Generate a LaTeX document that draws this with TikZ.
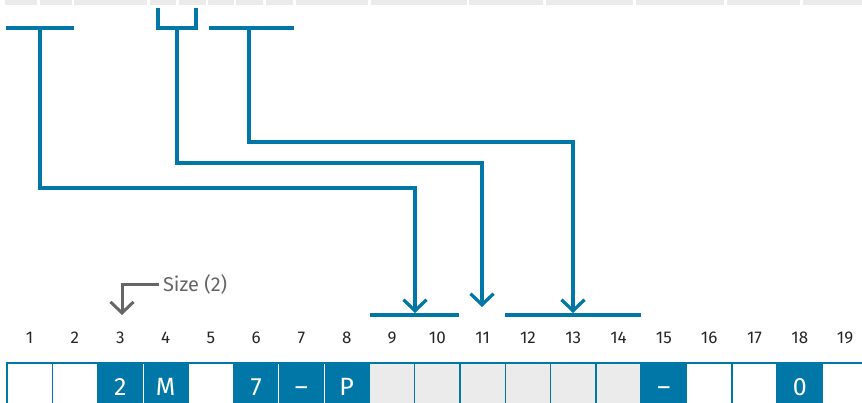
\documentclass[tikz,border=0pt]{standalone}
\usepackage{fontspec}
\setmainfont{Fira Sans}
\usepackage{xcolor}
\usetikzlibrary{arrows.meta,positioning,calc}
\definecolor{field_blue}{RGB}{0,119,167}
\definecolor{field_gray}{RGB}{235,235,235}
\definecolor{note_gray}{RGB}{102,102,102}

\begin{document}
\begin{tikzpicture}[
                x=1pt, y=-1pt,
                every node/.style={inner sep=0pt, outer sep=0pt},
                cell/.style={draw=field_blue, line width=1.5pt, minimum width=45.3pt, minimum height=46pt, anchor=north west, text height=18pt, text depth=0pt, font=\fontsize{25}{25}\selectfont},
                cell_empty/.style={cell, fill=white},
                cell_gray/.style={cell, fill=field_gray},
                cell_set/.style={cell, fill=field_blue, draw=white, line width=0.8pt, text=white},
                pos_num/.style={text=black!85, font=\fontsize{17}{17}\selectfont, text height=12pt, text depth=0pt},
                bracket/.style={field_blue, line width=3.3pt},
                link/.style={field_blue, line width=3.3pt, -{Straight Barb[length=11pt, width=23pt, line width=3.3pt]}},
                note/.style={text=note_gray, font=\fontsize{20}{20}\selectfont, inner xsep=4pt},
                note_link/.style={note_gray, line width=3pt, -{Straight Barb[length=11pt, width=23pt, line width=3pt]}}
            ]
                \path[use as bounding box, clip] (0,0) rectangle (862,403);

                % Header strip (light gray tabs)
                \foreach \a/\b in {5/37,40/72,74/147,150/176,179/206,208/234,236/263,266/293,296/368,371/467,469/543,546/633,636/724,727/800,803/862} {
                    \fill[field_gray] (\a,0) rectangle (\b,5);
                }

                % Source brackets
                \draw[bracket] (6,28) -- (74,28);
                \draw[bracket] (158,8) -- (158,28) -- (196,28) -- (196,8);
                \draw[bracket] (209,28) -- (294,28);
                \coordinate (src_a) at (40,28);
                \coordinate (src_b) at (177,28);
                \coordinate (src_c) at (249,28);

                % Target brackets
                \draw[bracket] (370,315) -- (459,315);
                \draw[bracket] (505,315) -- (641,315);
                \coordinate (dst_a) at (415,313);
                \coordinate (dst_b) at (482,307);
                \coordinate (dst_c) at (573,313);

                % Mapping links
                \draw[link] (src_a) -- ++(0,160) -| (dst_a);
                \draw[link] (src_b) -- ++(0,135) -| (dst_b);
                \draw[link] (src_c) -- ++(0,114) -| (dst_c);

                % Position numbers
                \foreach \i in {1,...,19} {
                    \node[pos_num] (n\i) at ({7+(\i-0.5)*45.3},337) {\i};
                }

                % Size note at position 3
                \node[note, anchor=west] (size_lbl) at (159,285) {Size (2)};
                \coordinate (size_tip) at (122,315);
                \draw[note_link] (size_lbl.west) -| (size_tip);

                % Field cells (filled ones first, the others over their borders)
                \foreach \i/\txt in {3/2,4/M,6/7,7/\textendash,8/P,15/\textendash,18/0} {
                    \node[cell_set] (c\i) at ({7+(\i-1)*45.3},363) {\txt};
                }
                \foreach \i in {1,2,5,16,17,19} {
                    \node[cell_empty] (c\i) at ({7+(\i-1)*45.3},363) {};
                }
                \foreach \i in {9,...,14} {
                    \node[cell_gray] (c\i) at ({7+(\i-1)*45.3},363) {};
                }
                \draw[field_blue, line width=1.5pt] (c1.north west) -- (c19.north east);
            \end{tikzpicture}
\end{document}
